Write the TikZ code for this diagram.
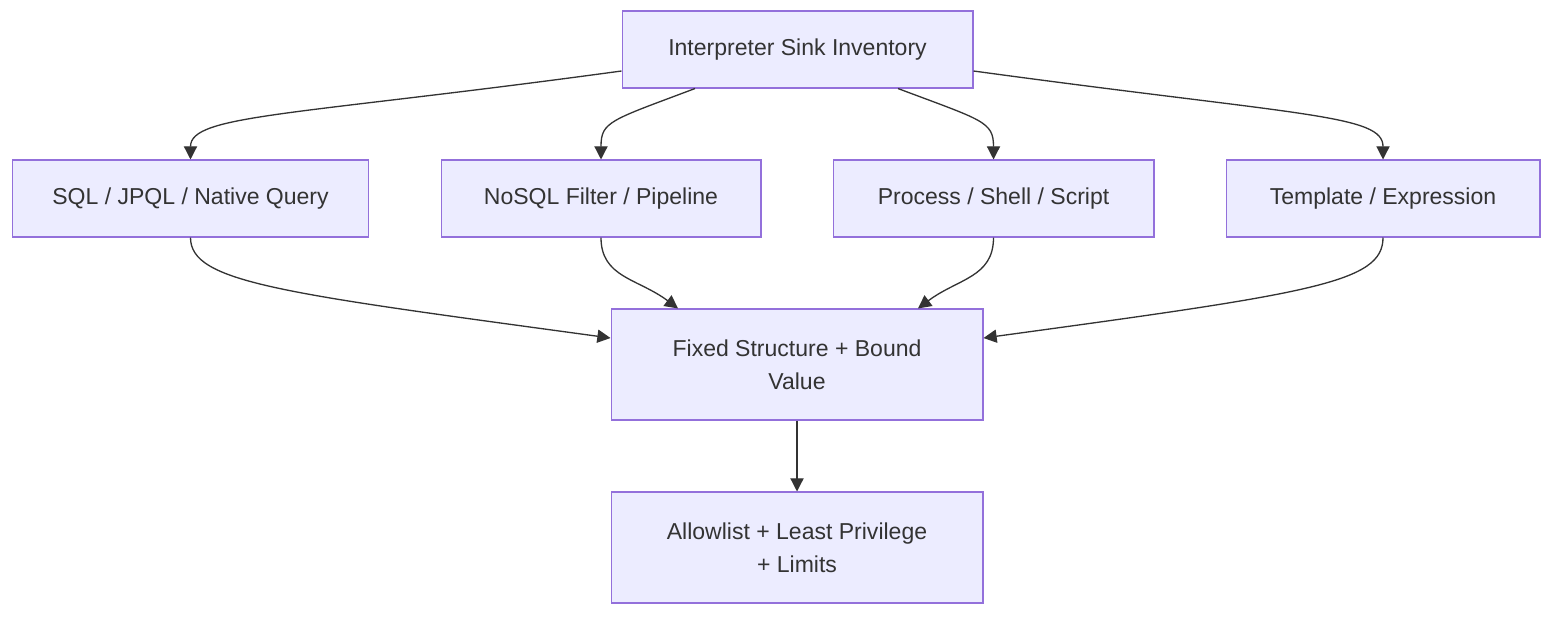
\documentclass[tikz,border=0pt]{standalone}
\usepackage{fontspec}
\setmainfont{Liberation Sans}
\definecolor{nodefill}{HTML}{ECECFF}
\definecolor{nodeline}{HTML}{9370DB}
\definecolor{ink}{HTML}{333333}
\usetikzlibrary{arrows.meta, positioning, calc}

\begin{document}
\begin{tikzpicture}[
    x=0.02cm, y=-0.02cm,
    box/.style={draw=nodeline, fill=nodefill, line width=0.6pt, align=center, text=ink,
      font=\fontsize{13.1}{19}\selectfont, minimum height=1.54cm, inner sep=0pt},
    tall/.style={box, minimum width=7.44cm, minimum height=2.22cm},
    link/.style={draw=ink, line width=0.75pt, -{Triangle[length=7.5pt, width=7.5pt]}}
]
  \useasboundingbox (0,0) rectangle (1568,622);

  \node[box, minimum width=7.02cm] (inv) at (797.5, 49.5) {Interpreter Sink Inventory};

  \node[box, minimum width=7.14cm] (sql) at (190.5, 198.5) {SQL / JPQL / Native Query};
  \node[box, minimum width=6.40cm] (nosql) at (601, 198.5) {NoSQL Filter / Pipeline};
  \node[box, minimum width=6.42cm] (proc) at (993.5, 198.5) {Process / Shell / Script};
  \node[box, minimum width=6.28cm] (tmpl) at (1383, 198.5) {Template / Expression};

  \node[tall] (fixed) at (797, 364.5) {Fixed Structure + Bound\\Value};
  \node[tall] (allow) at (797, 547.5) {Allowlist + Least Privilege\\+ Limits};

  % fan out
  \draw[link] ([yshift=-0.43cm]inv.west) .. controls +(-330,45) and +(0,-45) .. (sql.north);
  \draw[link] ([xshift=-2.05cm]inv.south) .. controls +(-85,32) and +(0,-38) .. (nosql.north);
  \draw[link] ([xshift=2.01cm]inv.south) .. controls +(85,32) and +(0,-38) .. (proc.north);
  \draw[link] ([yshift=-0.43cm]inv.east) .. controls +(330,45) and +(0,-45) .. (tmpl.north);

  % fan in
  \draw[link] (sql.south) .. controls +(0,45) and +(-330,-45) .. ([yshift=0.53cm]fixed.west);
  \draw[link] (nosql.south) .. controls +(0,40) and +(-40,-30) .. ([xshift=-2.38cm]fixed.north);
  \draw[link] (proc.south) .. controls +(0,40) and +(40,-30) .. ([xshift=2.42cm]fixed.north);
  \draw[link] (tmpl.south) .. controls +(0,45) and +(330,-45) .. ([yshift=0.53cm]fixed.east);

  \draw[link] (fixed) -- (allow);
\end{tikzpicture}
\end{document}
